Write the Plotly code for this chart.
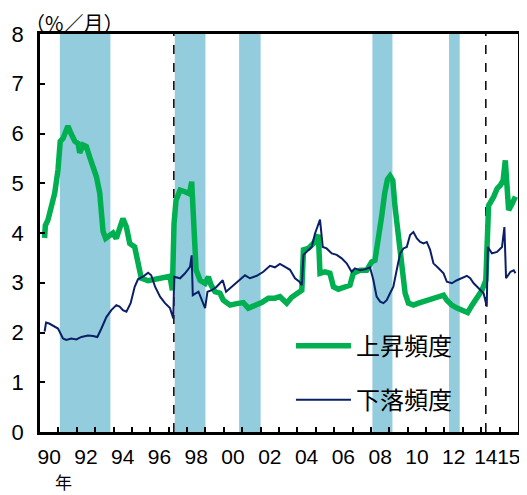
import plotly.graph_objects as go

# ---- data (decimal years, %/month) ----
up_x = [1990.25, 1990.29, 1990.43, 1990.62, 1990.8, 1990.98, 1991.1, 1991.25, 1991.43, 1991.52,
        1991.7, 1991.9, 1992.07, 1992.16, 1992.34, 1992.52, 1992.7, 1992.88, 1993.07, 1993.25,
        1993.34, 1993.43, 1993.57, 1993.79, 1993.97, 1994.15, 1994.33, 1994.51, 1994.7, 1994.88,
        1995.15, 1995.33, 1995.51, 1995.88, 1996.33, 1996.71, 1997.07, 1997.2, 1997.29, 1997.4,
        1997.62, 1997.89, 1998.13, 1998.25, 1998.34, 1998.49, 1998.71, 1998.98, 1999.16, 1999.31,
        1999.52, 1999.79, 1999.97, 2000.34, 2000.7, 2001.06, 2001.33, 2001.7, 2002.06, 2002.42,
        2002.78, 2003.05, 2003.42, 2003.69, 2004.06, 2004.24, 2004.33, 2004.6, 2004.87, 2005.14,
        2005.23, 2005.5, 2005.77, 2005.96, 2006.23, 2006.59, 2006.86, 2007.04, 2007.41, 2007.77,
        2008.04, 2008.22, 2008.4, 2008.59, 2008.75, 2008.9, 2009.04, 2009.19, 2009.31, 2009.5,
        2009.68, 2009.86, 2010.04, 2010.31, 2010.59, 2010.86, 2011.13, 2011.4, 2011.68, 2011.95,
        2012.13, 2012.4, 2012.68, 2012.95, 2013.26, 2013.5, 2013.77, 2014.04, 2014.25, 2014.33,
        2014.4, 2014.68, 2014.86, 2015.04, 2015.19, 2015.31, 2015.4, 2015.49, 2015.68, 2015.86]
up_y = [3.9, 4.15, 4.26, 4.53, 4.8, 5.27, 5.84, 5.9, 6.1, 6.15,
        5.99, 5.84, 5.8, 5.61, 5.77, 5.74, 5.53, 5.33, 5.13, 4.8,
        4.4, 4.03, 3.89, 3.94, 4.0, 3.89, 4.12, 4.29, 4.12, 3.79,
        3.72, 3.39, 3.09, 3.04, 3.08, 3.12, 3.13, 2.85, 4.19, 4.66,
        4.86, 4.83, 4.79, 5.03, 4.19, 3.26, 3.05, 2.99, 3.12, 2.95,
        2.82, 2.79, 2.65, 2.55, 2.58, 2.6, 2.49, 2.55, 2.6, 2.69,
        2.69, 2.72, 2.59, 2.71, 2.79, 2.85, 3.66, 3.69, 3.79, 3.96,
        3.19, 3.22, 3.19, 2.92, 2.87, 2.92, 2.95, 3.19, 3.25, 3.25,
        3.42, 3.45, 3.85, 4.35, 4.8, 5.08, 5.15, 5.06, 4.53, 3.86,
        3.19, 2.79, 2.59, 2.55, 2.59, 2.62, 2.65, 2.69, 2.71, 2.75,
        2.65, 2.55, 2.49, 2.45, 2.4, 2.55, 2.69, 2.85, 3.05, 3.9,
        4.55, 4.73, 4.89, 4.96, 5.06, 5.46, 4.86, 4.46, 4.59, 4.73]

down_x = [1990.25, 1990.33, 1990.5, 1990.75, 1990.98, 1991.25, 1991.43, 1991.7, 1991.98, 1992.25,
          1992.61, 1992.88, 1993.12, 1993.34, 1993.61, 1993.88, 1994.15, 1994.33, 1994.51, 1994.7,
          1994.93, 1995.15, 1995.33, 1995.66, 1995.88, 1996.05, 1996.26, 1996.53, 1996.8, 1997.07,
          1997.25, 1997.3, 1997.62, 1997.89, 1998.16, 1998.25, 1998.31, 1998.62, 1998.98, 1999.11,
          1999.34, 1999.61, 1999.94, 2000.12, 2000.43, 2000.79, 2001.15, 2001.42, 2001.79, 2002.15,
          2002.51, 2002.78, 2003.05, 2003.33, 2003.6, 2003.87, 2004.11, 2004.24, 2004.33, 2004.6,
          2004.78, 2004.96, 2005.14, 2005.23, 2005.38, 2005.59, 2005.87, 2006.14, 2006.41, 2006.68,
          2006.95, 2007.13, 2007.41, 2007.68, 2007.95, 2008.13, 2008.31, 2008.5, 2008.68, 2008.86,
          2009.04, 2009.22, 2009.4, 2009.59, 2009.77, 2009.95, 2010.13, 2010.31, 2010.5, 2010.68,
          2010.86, 2011.04, 2011.22, 2011.4, 2011.68, 2011.95, 2012.13, 2012.4, 2012.68, 2012.95,
          2013.22, 2013.4, 2013.59, 2013.86, 2014.13, 2014.3, 2014.36, 2014.58, 2014.86, 2015.13,
          2015.26, 2015.35, 2015.59, 2015.77, 2015.86]
down_y = [2.02, 2.2, 2.18, 2.12, 2.08, 1.88, 1.85, 1.88, 1.86, 1.91,
          1.94, 1.93, 1.91, 2.08, 2.31, 2.45, 2.55, 2.52, 2.45, 2.42,
          2.59, 2.92, 3.07, 3.14, 3.2, 3.15, 2.92, 2.72, 2.59, 2.49,
          2.28, 3.12, 3.09, 3.19, 3.32, 3.55, 2.75, 2.82, 2.49, 2.82,
          2.85, 2.92, 3.05, 2.82, 2.92, 3.02, 3.15, 3.09, 3.14, 3.22,
          3.34, 3.31, 3.38, 3.32, 3.26, 3.09, 3.02, 2.95, 3.56, 3.66,
          3.72, 3.99, 4.19, 4.27, 3.72, 3.69, 3.59, 3.56, 3.49, 3.39,
          3.22, 3.29, 3.25, 3.27, 3.31, 3.06, 2.72, 2.62, 2.59, 2.65,
          2.79, 2.92, 3.25, 3.59, 3.69, 3.72, 3.96, 4.02, 3.89, 3.82,
          3.79, 3.82, 3.66, 3.39, 3.29, 3.19, 3.02, 2.99, 3.05, 3.09,
          3.14, 3.09, 2.99, 2.89, 2.79, 2.52, 3.72, 3.59, 3.62, 3.72,
          4.12, 3.09, 3.22, 3.25, 3.19]

recessions = [(1991.08, 1993.83), (1997.33, 1999.0), (2000.83, 2002.0), (2008.08, 2009.17), (2012.25, 2012.83)]
event_dates = [1997.28, 2014.25]

tick_pos = [1990.5, 1992.5, 1994.5, 1996.5, 1998.5, 2000.5, 2002.5, 2004.5, 2006.5,
            2008.5, 2010.5, 2012.5, 2014.25, 2015.5]
tick_text = ["90", "92", "94", "96", "98", "00", "02", "04", "06", "08", "10", "12", "14", "15"]

GREEN = "#00B050"
NAVY = "#0A1F66"
SHADE = "#93CDDD"
JP = "Noto Sans CJK JP"
NUM = "Liberation Sans, Noto Sans CJK JP"

fig = go.Figure()
fig.add_trace(go.Scatter(x=up_x, y=up_y, mode="lines", name="上昇頻度",
                         line=dict(color=GREEN, width=5.5), legend="legend"))
fig.add_trace(go.Scatter(x=down_x, y=down_y, mode="lines", name="下落頻度",
                         line=dict(color=NAVY, width=2), legend="legend2"))

for s, e in recessions:
    fig.add_shape(type="rect", xref="x", yref="paper", x0=s, x1=e, y0=0, y1=1,
                  fillcolor=SHADE, line_width=0, layer="below")
for d in event_dates:
    fig.add_shape(type="line", xref="x", yref="paper", x0=d, x1=d, y0=0, y1=1,
                  line=dict(color="black", width=1.5, dash="dash"), layer="below")

# the page body has an 8px default margin, so the figure is sized/placed to compensate
fig.update_layout(
    width=519, height=487,
    margin=dict(l=32, r=9, t=26, b=63, autoexpand=False),
    paper_bgcolor="white", plot_bgcolor="white",
    showlegend=True,
    font=dict(family=NUM, size=21, color="black"),
    legend=dict(x=0.525, y=0.216, xanchor="left", yanchor="middle",
                bgcolor="rgba(0,0,0,0)", font=dict(family=JP, size=24), itemwidth=55),
    legend2=dict(x=0.525, y=0.08, xanchor="left", yanchor="middle",
                 bgcolor="rgba(0,0,0,0)", font=dict(family=JP, size=24), itemwidth=55),
    xaxis=dict(range=[1990, 2016], showgrid=False, zeroline=False, automargin=False,
               showline=True, linecolor="black", linewidth=2.5, mirror=True,
               tickmode="array", tickvals=tick_pos, ticktext=tick_text, ticks="",
               tickangle=0, ticklabelstandoff=4,
               minor=dict(tickmode="array", tickvals=list(range(1991, 2016)),
                          ticks="inside", ticklen=5, tickwidth=1.5, tickcolor="black",
                          showgrid=False)),
    yaxis=dict(range=[0, 8], dtick=1, showgrid=False, zeroline=False, automargin=False,
               showline=True, linecolor="black", linewidth=2.5, mirror=True,
               ticks="inside", ticklen=5, tickwidth=1.5, tickcolor="black",
               ticklabelstandoff=9, tickfont=dict(size=22)),
)

fig.add_annotation(text="（%／月）", xref="paper", yref="paper", x=-0.035, y=1.028,
                   xanchor="left", yanchor="middle", showarrow=False,
                   font=dict(family=JP, size=20))
fig.add_annotation(text="年", xref="paper", yref="paper", x=0.05, y=-0.125,
                   xanchor="center", yanchor="middle", showarrow=False,
                   font=dict(family=JP, size=17))

fig.write_html("out.html")
